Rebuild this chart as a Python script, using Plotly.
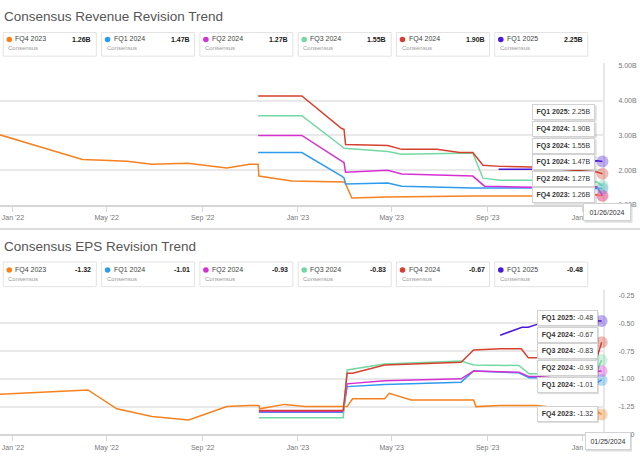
import plotly.graph_objects as go

W, H = 640, 462
def px(x): return x / W
def py(y): return 1 - y / H

FONT = "Liberation Sans, Arial, sans-serif"

series_names = ["FQ4 2023", "FQ1 2024", "FQ2 2024", "FQ3 2024", "FQ4 2024", "FQ1 2025"]
colors = ["#F7811E", "#2E9BF0", "#D630D4", "#72D9A2", "#D6402F", "#4B17DD"]
alpha_colors = ["rgba(247,129,30,0.35)", "rgba(46,155,240,0.35)", "rgba(214,48,212,0.35)",
                "rgba(114,217,162,0.35)", "rgba(214,64,47,0.35)", "rgba(75,23,221,0.35)"]

x_tick_vals = ["2022-01-01", "2022-05-01", "2022-09-01", "2023-01-01", "2023-05-01", "2023-09-01", "2024-01-01"]
x_tick_text = ["Jan '22", "May '22", "Sep '22", "Jan '23", "May '23", "Sep '23", "Jan '24"]

# ---------------- Revenue (billions) ----------------
rev_fq4_2023_dates = ["2021-12-15", "2022-03-31", "2022-04-26", "2022-05-27", "2022-06-28", "2022-08-13",
                      "2022-10-02", "2022-10-31", "2022-11-11", "2022-11-12", "2022-12-24", "2023-03-02",
                      "2023-03-11", "2023-04-25", "2023-08-13", "2023-10-28", "2024-01-19", "2024-01-26"]
rev_fq4_2023_vals = [3.02, 2.31, 2.29, 2.26, 2.17, 2.20, 2.06, 2.17, 2.17, 1.83, 1.69, 1.66,
                     1.20, 1.23, 1.26, 1.26, 1.29, 1.26]

rev_fq1_2024_dates = ["2022-11-11", "2023-01-06", "2023-02-26", "2023-03-01", "2023-03-03", "2023-04-26",
                      "2023-05-14", "2023-08-13", "2023-10-28", "2024-01-19", "2024-01-26"]
rev_fq1_2024_vals = [2.51, 2.51, 1.83, 1.78, 1.60, 1.63, 1.54, 1.49, 1.49, 1.49, 1.47]

rev_fq2_2024_dates = ["2022-11-11", "2023-01-06", "2023-02-26", "2023-03-01", "2023-03-03", "2023-04-26",
                      "2023-05-14", "2023-07-27", "2023-08-13", "2023-08-28", "2023-10-28", "2024-01-19",
                      "2024-01-26"]
rev_fq2_2024_vals = [3.00, 3.00, 2.26, 2.22, 1.94, 2.00, 1.89, 1.83, 1.83, 1.54, 1.51, 1.52, 1.27]

rev_fq3_2024_dates = ["2022-11-11", "2023-01-06", "2023-02-26", "2023-03-01", "2023-04-26", "2023-05-14",
                      "2023-07-27", "2023-08-13", "2023-08-26", "2023-09-17", "2023-10-28", "2024-01-19",
                      "2024-01-26"]
rev_fq3_2024_vals = [3.57, 3.57, 2.69, 2.63, 2.54, 2.46, 2.49, 2.49, 1.77, 1.71, 1.71, 1.66, 1.55]

rev_fq4_2024_dates = ["2022-11-11", "2023-01-06", "2023-02-26", "2023-03-01", "2023-03-03", "2023-04-26",
                      "2023-05-14", "2023-06-28", "2023-07-27", "2023-08-13", "2023-08-26", "2023-09-17",
                      "2023-10-28", "2024-01-19", "2024-01-26"]
rev_fq4_2024_vals = [4.14, 4.14, 3.20, 3.18, 2.74, 2.71, 2.60, 2.60, 2.51, 2.51, 2.14, 2.11,
                     2.09, 1.95, 1.90]

rev_fq1_2025_dates = ["2023-09-15", "2023-10-28", "2024-01-19", "2024-01-26"]
rev_fq1_2025_vals = [2.03, 2.03, 2.27, 2.25]

# ---------------- EPS ----------------
eps_fq4_2023_dates = ["2021-12-15", "2022-04-07", "2022-05-14", "2022-06-28", "2022-08-14", "2022-10-02",
                      "2022-10-31", "2022-11-12", "2022-11-13", "2022-12-15", "2023-01-10", "2023-03-05",
                      "2023-03-12", "2023-04-22", "2023-04-28", "2023-05-26", "2023-08-14", "2023-08-17",
                      "2023-09-17", "2023-11-03", "2024-01-20", "2024-01-25"]
eps_fq4_2023_vals = [-1.14, -1.10, -1.27, -1.34, -1.37, -1.25, -1.24, -1.24, -1.27, -1.23, -1.25, -1.25,
                     -1.18, -1.18, -1.13, -1.19, -1.19, -1.25, -1.24, -1.24, -1.30, -1.32]

eps_fq1_2024_dates = ["2022-11-12", "2023-02-28", "2023-03-05", "2023-04-22", "2023-07-29", "2023-08-14",
                      "2023-10-11", "2023-10-24", "2023-11-03", "2024-01-19", "2024-01-25"]
eps_fq1_2024_vals = [-1.30, -1.30, -1.07, -1.05, -1.03, -0.93, -0.946, -0.99, -0.99, -1.036, -1.01]

eps_fq2_2024_dates = ["2022-11-12", "2023-02-28", "2023-03-05", "2023-04-22", "2023-07-29", "2023-08-14",
                      "2023-10-11", "2023-10-24", "2023-11-03", "2024-01-19", "2024-01-25"]
eps_fq2_2024_vals = [-1.295, -1.295, -1.045, -1.018, -1.00, -0.93, -0.94, -0.98, -0.98, -0.93, -0.93]

eps_fq3_2024_dates = ["2022-11-12", "2023-02-28", "2023-03-05", "2023-04-22", "2023-07-29", "2023-08-14",
                      "2023-10-11", "2023-10-24", "2023-11-03", "2024-01-19", "2024-01-25"]
eps_fq3_2024_vals = [-1.35, -1.35, -0.92, -0.866, -0.84, -0.875, -0.88, -0.955, -0.955, -0.93, -0.83]

eps_fq4_2024_dates = ["2022-11-12", "2023-02-28", "2023-03-05", "2023-03-12", "2023-04-22", "2023-07-29",
                      "2023-08-14", "2023-09-17", "2023-10-14", "2023-10-23", "2023-11-03", "2024-01-19",
                      "2024-01-25"]
eps_fq4_2024_vals = [-1.286, -1.286, -0.95, -0.95, -0.875, -0.85, -0.74, -0.73, -0.73, -0.81, -0.81,
                     -0.81, -0.67]

eps_fq1_2025_dates = ["2023-09-17", "2023-10-15", "2023-10-23", "2023-11-03", "2024-01-19", "2024-01-25"]
eps_fq1_2025_vals = [-0.607, -0.536, -0.536, -0.51, -0.48, -0.48]

rev_series = [(rev_fq4_2023_dates, rev_fq4_2023_vals), (rev_fq1_2024_dates, rev_fq1_2024_vals),
              (rev_fq2_2024_dates, rev_fq2_2024_vals), (rev_fq3_2024_dates, rev_fq3_2024_vals),
              (rev_fq4_2024_dates, rev_fq4_2024_vals), (rev_fq1_2025_dates, rev_fq1_2025_vals)]
eps_series = [(eps_fq4_2023_dates, eps_fq4_2023_vals), (eps_fq1_2024_dates, eps_fq1_2024_vals),
              (eps_fq2_2024_dates, eps_fq2_2024_vals), (eps_fq3_2024_dates, eps_fq3_2024_vals),
              (eps_fq4_2024_dates, eps_fq4_2024_vals), (eps_fq1_2025_dates, eps_fq1_2025_vals)]

rev_ticks = [1, 2, 3, 4, 5]
rev_tick_text = ["1.00B", "2.00B", "3.00B", "4.00B", "5.00B"]
eps_ticks = [-1.5, -1.25, -1.0, -0.75, -0.5, -0.25]
eps_tick_text = ["-1.50", "-1.25", "-1.00", "-0.75", "-0.50", "-0.25"]

fig = go.Figure()

for i, (d, v) in enumerate(rev_series):
    fig.add_trace(go.Scatter(x=d, y=v, mode="lines", line=dict(color=colors[i], width=1.5),
                             xaxis="x", yaxis="y", showlegend=False, hoverinfo="skip"))
for i, (d, v) in enumerate(eps_series):
    fig.add_trace(go.Scatter(x=d, y=v, mode="lines", line=dict(color=colors[i], width=1.5),
                             xaxis="x2", yaxis="y2", showlegend=False, hoverinfo="skip"))
# end markers
for i, (d, v) in enumerate(rev_series):
    fig.add_trace(go.Scatter(x=[d[-1]], y=[v[-1]], mode="markers",
                             marker=dict(color=alpha_colors[i], size=12, line=dict(width=0)),
                             xaxis="x", yaxis="y", showlegend=False, hoverinfo="skip", cliponaxis=False))
for i, (d, v) in enumerate(eps_series):
    fig.add_trace(go.Scatter(x=[d[-1]], y=[v[-1]], mode="markers",
                             marker=dict(color=alpha_colors[i], size=12, line=dict(width=0)),
                             xaxis="x2", yaxis="y2", showlegend=False, hoverinfo="skip", cliponaxis=False))

x_range = ["2021-12-15 10:00", "2024-01-29 19:00"]
x_dom = [0, 605.4 / W]
xaxis_common = dict(type="date", range=x_range, domain=x_dom, tickvals=x_tick_vals, ticktext=x_tick_text,
                    showgrid=False, showline=True, linecolor="#d6d6d6", linewidth=2, ticks="outside",
                    ticklen=5, tickcolor="#d6d6d6", tickwidth=1,
                    tickfont=dict(family=FONT, size=7, color="#777"), zeroline=False, fixedrange=True)
yaxis_common = dict(side="right", showgrid=True, gridcolor="#e9e9e9", gridwidth=1.5, zeroline=False,
                    showline=False, ticks="", ticklabelstandoff=12,
                    tickfont=dict(family=FONT, size=7, color="#777"))

fig.update_layout(
    width=W, height=H, margin=dict(l=0, r=0, t=0, b=0),
    paper_bgcolor="white", plot_bgcolor="white",
    xaxis=dict(**xaxis_common, anchor="y"),
    xaxis2=dict(**xaxis_common, anchor="y2"),
    yaxis=dict(**yaxis_common, anchor="x", domain=[py(204), py(63)], range=[1, 5],
               tickvals=rev_ticks, ticktext=rev_tick_text),
    yaxis2=dict(**yaxis_common, anchor="x2", domain=[py(437), py(296)], range=[-1.5, -0.25],
                tickvals=eps_ticks, ticktext=eps_tick_text),
)

shapes = []
annotations = []

def text(x, y, s, size=7, color="#333", xanchor="left", bold=False, **kw):
    if bold:
        s = "<b>" + s + "</b>"
    annotations.append(dict(x=px(x), y=py(y), xref="paper", yref="paper", text=s, showarrow=False,
                            xanchor=xanchor, yanchor="middle", font=dict(family=FONT, size=size, color=color),
                            borderpad=0, **kw))

# titles
text(3, 13, "Consensus Revenue Revision Trend", size=13.5, color="#555")
text(3, 246, "Consensus EPS Revision Trend", size=13.5, color="#555")

# separator
shapes.append(dict(type="line", xref="paper", yref="paper", x0=0, x1=1, y0=py(228.5), y1=py(228.5),
                   line=dict(color="#d0d0d0", width=1.5)))

def legend_row(y_top, y_bot, y_lab, y_cons, series, fmt):
    for i in range(6):
        x0 = 3.3 + i * 98.3
        shapes.append(dict(type="rect", xref="paper", yref="paper", x0=px(x0), x1=px(x0 + 93),
                           y0=py(y_bot), y1=py(y_top), line=dict(color="#e3e3e3", width=1),
                           fillcolor="white", layer="below"))
        shapes.append(dict(type="circle", xref="paper", yref="paper", x0=px(x0 + 3.2), x1=px(x0 + 8.8),
                           y0=py(y_lab + 2.8), y1=py(y_lab - 2.8), line=dict(width=0),
                           fillcolor=colors[i]))
        text(x0 + 11, y_lab, series_names[i], size=7, color="#444")
        text(x0 + 89, y_lab, fmt(series[i][1][-1]), size=7, color="#222", xanchor="right", bold=True)
        text(x0 + 4, y_cons, "Consensus", size=6, color="#999")

legend_row(29, 53, 36, 45, rev_series, lambda v: f"{v:.2f}B")
legend_row(262, 287, 270, 279, eps_series, lambda v: f"{v:.2f}")

# crosshair lines
cx = 604
shapes.append(dict(type="line", xref="paper", yref="paper", x0=px(cx), x1=px(cx), y0=py(204), y1=py(60),
                   line=dict(color="#cfcfcf", width=1), layer="below"))
shapes.append(dict(type="line", xref="paper", yref="paper", x0=px(cx), x1=px(cx), y0=py(437), y1=py(290),
                   line=dict(color="#cfcfcf", width=1), layer="below"))

def tooltip(xc, yc, w, h, s):
    shapes.append(dict(type="rect", xref="paper", yref="paper", x0=px(xc - w / 2 + 1.5), x1=px(xc + w / 2 + 1.5),
                       y0=py(yc + h / 2 + 1.5), y1=py(yc - h / 2 + 1.5), line=dict(width=0),
                       fillcolor="rgba(0,0,0,0.13)", layer="above"))
    annotations.append(dict(x=px(xc), y=py(yc), xref="paper", yref="paper", text=s, showarrow=False,
                            xanchor="center", yanchor="middle", width=w - 4, height=h - 4,
                            bgcolor="white", bordercolor="#d2d2d2", borderwidth=1, borderpad=1,
                            font=dict(family=FONT, size=7, color="#333"), align="center"))

rev_rows = [109.5, 126.8, 144, 160.5, 177.3, 194.3]
eps_rows = [319, 335.8, 352.7, 369.5, 386.7, 416]
rev_order = sorted(range(6), key=lambda i: -rev_series[i][1][-1])
eps_order = sorted(range(6), key=lambda i: -eps_series[i][1][-1])
for r, i in enumerate(rev_order):
    tooltip(563.7, rev_rows[r], 63, 16, f"<b>{series_names[i]}:</b> {rev_series[i][1][-1]:.2f}B")
for r, i in enumerate(eps_order):
    tooltip(567, eps_rows[r], 61, 16, f"<b>{series_names[i]}:</b> {eps_series[i][1][-1]:.2f}")

def fmt_date(d):
    y, m, dd = d.split("-")
    return f"{m}/{dd}/{y}"

tooltip(607, 211.5, 48, 18, fmt_date(rev_series[0][0][-1]))
tooltip(607.5, 444, 46, 18, fmt_date(eps_series[0][0][-1]))

fig.update_layout(shapes=shapes, annotations=annotations)
fig.write_html("out.html")
